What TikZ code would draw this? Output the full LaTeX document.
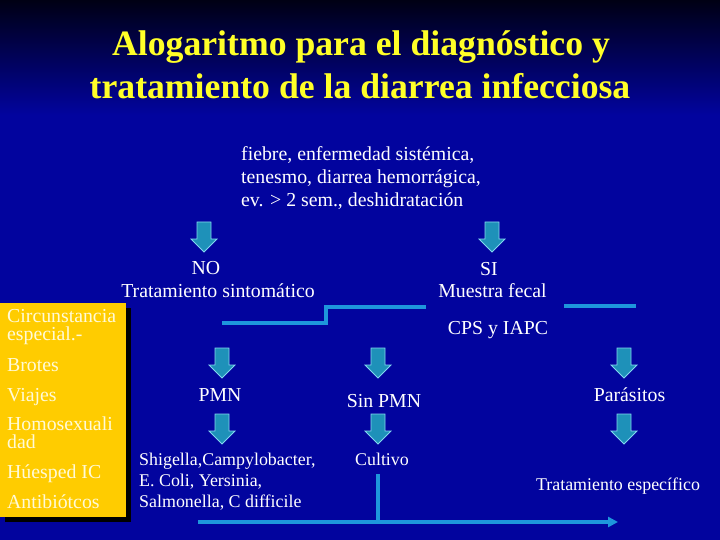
\documentclass[tikz,border=0pt]{standalone}
\usepackage{fontspec}
\setmainfont{Liberation Serif}
\usetikzlibrary{arrows.meta}
\definecolor{bgblue}{RGB}{2,4,158}
\definecolor{bgtop}{RGB}{0,0,20}
\definecolor{titley}{RGB}{255,255,40}
\definecolor{boxy}{RGB}{255,204,0}
\definecolor{boxtxt}{RGB}{255,250,215}
\definecolor{linec}{RGB}{30,150,220}
\definecolor{arrf}{RGB}{30,145,185}
\definecolor{arrd}{RGB}{130,215,240}
\tikzset{
  title/.style={text=titley,font=\fontsize{35.7}{40}\selectfont\bfseries,anchor=base,inner sep=0pt},
  lbl/.style={text=white,font=\fontsize{19.8}{23}\selectfont,anchor=base,inner sep=0pt},
  sml/.style={text=white,font=\fontsize{17.9}{21}\selectfont,anchor=base,inner sep=0pt},
  boxt/.style={text=boxtxt,font=\fontsize{19.8}{17}\selectfont,anchor=base west,inner sep=0pt},
  bar/.style={draw=linec,line width=4pt},
  downarr/.pic={\draw[fill=arrf,draw=arrd,line width=0.8pt,line join=miter]
     (-7,0) -- (7,0) -- (7,17) -- (13,17) -- (0,30) -- (-13,17) -- (-7,17) -- cycle;}
}
\begin{document}
\begin{tikzpicture}[x=1pt,y=-1pt]
\useasboundingbox (0,0) rectangle (720,540);
% background
\fill[bgblue] (0,0) rectangle (720,540);
\shade[top color=bgtop,bottom color=bgblue] (0,0) rectangle (720,115);
% title
\node[title] (t1) at (361,56) {Alogaritmo para el diagnóstico y};
\node[title] (t2) at (360,99) {tratamiento de la diarrea infecciosa};
% criteria
\node[lbl,anchor=base west] (c1) at (241,161) {fiebre, enfermedad sistémica,};
\node[lbl,anchor=base west] (c2) at (241,184) {tenesmo, diarrea hemorrágica,};
\node[lbl,anchor=base west] (c3) at (241,207) {ev. > 2 sem., deshidratación};
% arrows first level
\pic at (204,222) {downarr};
\pic at (492,222) {downarr};
\node[lbl] (no) at (206,274) {NO};
\node[lbl] (ts) at (218,297) {Tratamiento sintomático};
\node[lbl] (si) at (489,275) {SI};
\node[lbl] (mf) at (492.5,297) {Muestra fecal};
% bars
\coordinate (b1) at (222,323);
\coordinate (b2) at (326,323);
\coordinate (b3) at (326,307);
\coordinate (b4) at (426,307);
\draw[bar,line join=miter] (b1) -- (b2) -- (b3) -- (b4);
\coordinate (b5) at (564,306);
\coordinate (b6) at (636,306);
\draw[bar] (b5) -- (b6);
\node[lbl] (cps) at (498,334) {CPS y IAPC};
% yellow box
\fill[black] (5,308) rectangle (131,522);
\fill[boxy] (0,303) rectangle (126,517);
\node[boxt] (y1) at (7,322) {Circunstancia};
\node[boxt] (y2) at (7,340) {especial.-};
\node[boxt] (y3) at (7,371) {Brotes};
\node[boxt] (y4) at (7,401) {Viajes};
\node[boxt] (y5) at (7,430) {Homosexuali};
\node[boxt] (y6) at (7,448) {dad};
\node[boxt] (y7) at (7,478) {Húesped IC};
\node[boxt] (y8) at (7,508) {Antibiótcos};
% second level arrows
\pic at (222,348) {downarr};
\pic at (378,348) {downarr};
\pic at (624,348) {downarr};
\node[lbl] (pmn) at (220,401) {PMN};
\node[lbl] (spmn) at (384,407) {Sin PMN};
\node[lbl] (par) at (629.5,401) {Parásitos};
\pic at (222,414) {downarr};
\pic at (378,414) {downarr};
\pic at (624,414) {downarr};
\node[sml,anchor=base west] (g1) at (139,465) {Shigella,Campylobacter,};
\node[sml,anchor=base west] (g2) at (139,486) {E. Coli, Yersinia,};
\node[sml,anchor=base west] (g3) at (139,507) {Salmonella, C difficile};
\node[sml] (cul) at (382,465) {Cultivo};
\node[sml] (tre) at (618,490) {Tratamiento específico};
% bottom connector
\coordinate (v1) at (378,474);
\coordinate (v2) at (378,522);
\coordinate (h1) at (198,522);
\coordinate (h2) at (618,522);
\draw[bar] (v1) -- (v2);
\draw[bar,-{Triangle[length=10pt,width=10pt]}] (h1) -- (h2);
\end{tikzpicture}
\end{document}
